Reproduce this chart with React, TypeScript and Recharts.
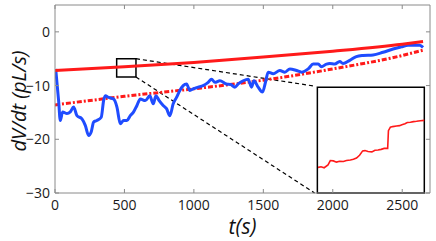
import React from 'react';
import {
  LineChart,
  Line,
  XAxis,
  YAxis,
  ReferenceArea,
  ReferenceLine,
  Label,
} from 'recharts';

// blue trace (measured flow rate)
const blueT = [
  5, 26, 38, 55, 86, 110, 134, 158, 194, 218, 242, 261, 278, 302, 333, 350, 362, 386, 422, 446,
  470, 494, 518, 542, 566, 590, 614, 650, 683, 707, 727, 750, 779, 803, 827, 851, 875, 899, 923,
  947, 971, 995, 1031, 1067, 1103, 1127, 1151, 1187, 1235, 1265, 1295, 1319, 1355, 1391, 1415,
  1432, 1463, 1494, 1518, 1535, 1571, 1619, 1655, 1691, 1739, 1775, 1823, 1859, 1895, 1918, 1955,
  1978, 2014, 2050, 2074, 2122, 2170, 2218, 2290, 2362, 2434, 2494, 2542, 2590, 2626, 2650,
];
const blueV = [
  -6.9, -12.8, -16.5, -14.9, -15.2, -14.9, -14.0, -15.6, -16.2, -17.4, -19.3, -18.6, -16.8, -16.5,
  -15.9, -12.8, -11.9, -12.2, -12.5, -14.0, -17.1, -16.5, -16.5, -15.6, -14.9, -13.7, -12.5, -12.8,
  -11.9, -13.4, -11.9, -12.8, -13.7, -14.3, -15.6, -13.4, -12.2, -10.9, -10.0, -9.7, -10.9, -10.6,
  -10.3, -10.0, -9.4, -8.8, -9.4, -9.1, -9.7, -9.8, -10.3, -9.7, -9.1, -8.8, -10.3, -9.1, -10.3,
  -11.2, -9.1, -7.5, -7.8, -7.2, -7.5, -6.9, -7.2, -7.5, -6.9, -6.0, -6.0, -6.5, -6.0, -5.9, -6.0,
  -5.5, -5.9, -5.3, -4.6, -4.4, -4.3, -3.8, -3.2, -2.8, -2.5, -2.5, -2.5, -2.9,
];

// red solid (fit) and red dash-dot (model)
const fitT = [0, 500, 1000, 1500, 2000, 2500, 2650];
const fitV = [-7.2, -6.5, -5.7, -4.7, -3.6, -2.3, -1.8];
const modelT = [0, 500, 1000, 1500, 2000, 2500, 2650];
const modelV = [-13.6, -12.0, -10.6, -9.0, -6.9, -4.4, -3.4];

// zoomed inset trace
const insetT = [
  444, 448, 452, 457, 460, 464, 468, 472, 477, 481, 486, 490, 494, 498, 502, 505, 509, 514, 518,
  522, 526, 530, 534.5, 535.5, 538, 541, 546, 550, 553, 557, 560, 564, 568, 572, 577, 582,
];
const insetV = [
  -7.58, -7.56, -7.59, -7.5, -7.36, -7.37, -7.41, -7.38, -7.39, -7.36, -7.34, -7.32, -7.28, -7.19,
  -7.05, -7.04, -7.07, -7.08, -7.03, -7.02, -7.0, -6.97, -6.97, -6.4, -6.29, -6.27, -6.25, -6.24,
  -6.21, -6.18, -6.14, -6.13, -6.11, -6.1, -6.08, -6.07,
];

// zoom box and inset extents in data units
const boxX = [444, 583];
const boxY = [-8.4, -5.0];
const insetX = [1889, 2659];
const insetY = [-30, -10.3];

const xDomain = [0, 2700];
const yDomain = [-30, 5];
const xTicks = [0, 500, 1000, 1500, 2000, 2500];
const yTicks = [-30, -20, -10, 0];
// inward tick length on the top / right frame, in data units (~4px)
const tickLenX = 29;
const tickLenY = 0.75;

const blueData = blueT.map((t, i) => ({ t, v: blueV[i] }));
const fitData = fitT.map((t, i) => ({ t, v: fitV[i] }));
const modelData = modelT.map((t, i) => ({ t, v: modelV[i] }));
const insetData = insetT.map((t, i) => ({ t, v: insetV[i] }));

const font = '"Open Sans", "DejaVu Sans", sans-serif';
const axisColor = '#8a8a8a';
const tickStyle = { fontSize: 14, fill: '#1a1a1a', fontFamily: font };

// y tick label drawn by hand so the minus sign is a real typographic minus
function YTick({ x, y, payload }: any) {
  const v = payload.value as number;
  const text = v < 0 ? '\u2212' + Math.abs(v) : String(v);
  return (
    <text x={x} y={y} dy={5} textAnchor="end" style={tickStyle} fill="#1a1a1a">
      {text}
    </text>
  );
}

export default function App() {
  return (
    <div style={{ position: 'absolute', left: 0, top: 0, width: 436, height: 241, background: '#fff' }}>
      <LineChart
        width={436}
        height={241}
        margin={{ top: 5, right: 6, left: 0, bottom: 0 }}
        style={{ fontFamily: font }}
      >
        <XAxis
          type="number"
          dataKey="t"
          domain={xDomain}
          ticks={xTicks}
          height={48}
          allowDataOverflow
          tick={tickStyle}
          tickSize={-4}
          tickMargin={11}
          stroke={axisColor}
          tickLine={{ stroke: axisColor }}
        >
          <Label
            value="t(s)"
            position="insideBottom"
            offset={7}
            style={{ fontSize: 21, fontStyle: 'italic', fill: '#111', fontFamily: font }}
          />
        </XAxis>
        <YAxis
          type="number"
          domain={yDomain}
          ticks={yTicks}
          width={55}
          allowDataOverflow
          tick={<YTick />}
          tickSize={-4}
          tickMargin={9}
          stroke={axisColor}
          tickLine={{ stroke: axisColor }}
        >
          <Label
            content={({ viewBox }: any) => {
              const cx = viewBox.x + 18;
              const cy = viewBox.y + viewBox.height / 2 + 2;
              return (
                <text
                  x={cx}
                  y={cy}
                  transform={`rotate(-90 ${cx} ${cy})`}
                  textAnchor="middle"
                  dominantBaseline="central"
                  style={{ fontSize: 20, fontStyle: 'italic', fill: '#111', fontFamily: font }}
                >
                  dV/dt  (pL/s)
                </text>
              );
            }}
          />
        </YAxis>

        {/* top and right sides of the frame, with inward ticks */}
        <ReferenceLine
          segment={[
            { x: xDomain[0], y: yDomain[1] },
            { x: xDomain[1], y: yDomain[1] },
          ]}
          stroke={axisColor}
          strokeWidth={1}
          ifOverflow="visible"
        />
        <ReferenceLine
          segment={[
            { x: xDomain[1], y: yDomain[0] },
            { x: xDomain[1], y: yDomain[1] },
          ]}
          stroke={axisColor}
          strokeWidth={1}
          ifOverflow="visible"
        />
        {xTicks.map((t) => (
          <ReferenceLine
            key={'tx' + t}
            segment={[
              { x: t, y: yDomain[1] },
              { x: t, y: yDomain[1] - tickLenY },
            ]}
            stroke={axisColor}
            ifOverflow="visible"
          />
        ))}
        {yTicks.map((v) => (
          <ReferenceLine
            key={'ty' + v}
            segment={[
              { x: xDomain[1], y: v },
              { x: xDomain[1] - tickLenX, y: v },
            ]}
            stroke={axisColor}
            ifOverflow="visible"
          />
        ))}

        <ReferenceLine
          segment={[
            { x: boxX[1], y: boxY[1] },
            { x: insetX[0] - 20, y: insetY[1] + 0.2 },
          ]}
          stroke="#000"
          strokeWidth={1.2}
          strokeDasharray="4 3"
        />
        <ReferenceLine
          segment={[
            { x: boxX[1], y: boxY[0] },
            { x: insetX[0] - 20, y: insetY[0] },
          ]}
          stroke="#000"
          strokeWidth={1.2}
          strokeDasharray="4 3"
        />

        <Line
          data={modelData}
          dataKey="v"
          type="monotone"
          stroke="#ff1a1a"
          strokeWidth={3}
          strokeDasharray="5 2 2 2"
          dot={false}
          isAnimationActive={false}
        />
        <Line
          data={blueData}
          dataKey="v"
          type="monotone"
          stroke="#1f4cff"
          strokeWidth={3}
          dot={false}
          isAnimationActive={false}
        />
        <Line
          data={fitData}
          dataKey="v"
          type="monotone"
          stroke="#ff1a1a"
          strokeWidth={3}
          dot={false}
          isAnimationActive={false}
        />

        <ReferenceArea
          x1={boxX[0]}
          x2={boxX[1]}
          y1={boxY[0]}
          y2={boxY[1]}
          fill="none"
          fillOpacity={0}
          stroke="#000"
          strokeWidth={1.5}
        />
        <ReferenceArea
          x1={insetX[0]}
          x2={insetX[1]}
          y1={insetY[0]}
          y2={insetY[1]}
          fill="#fff"
          fillOpacity={1}
          stroke="#000"
          strokeWidth={1.5}
        />
      </LineChart>

      <div style={{ position: 'absolute', left: 318, top: 87, width: 107, height: 106 }}>
        <LineChart width={107} height={106} margin={{ top: 0, right: 0, left: 0, bottom: 0 }}>
          <XAxis type="number" dataKey="t" domain={[boxX[0], boxX[1]]} hide />
          <YAxis type="number" domain={[boxY[0], boxY[1]]} hide />
          <Line
            data={insetData}
            dataKey="v"
            type="linear"
            stroke="#ff1a1a"
            strokeWidth={1.6}
            dot={false}
            isAnimationActive={false}
          />
        </LineChart>
      </div>
    </div>
  );
}
